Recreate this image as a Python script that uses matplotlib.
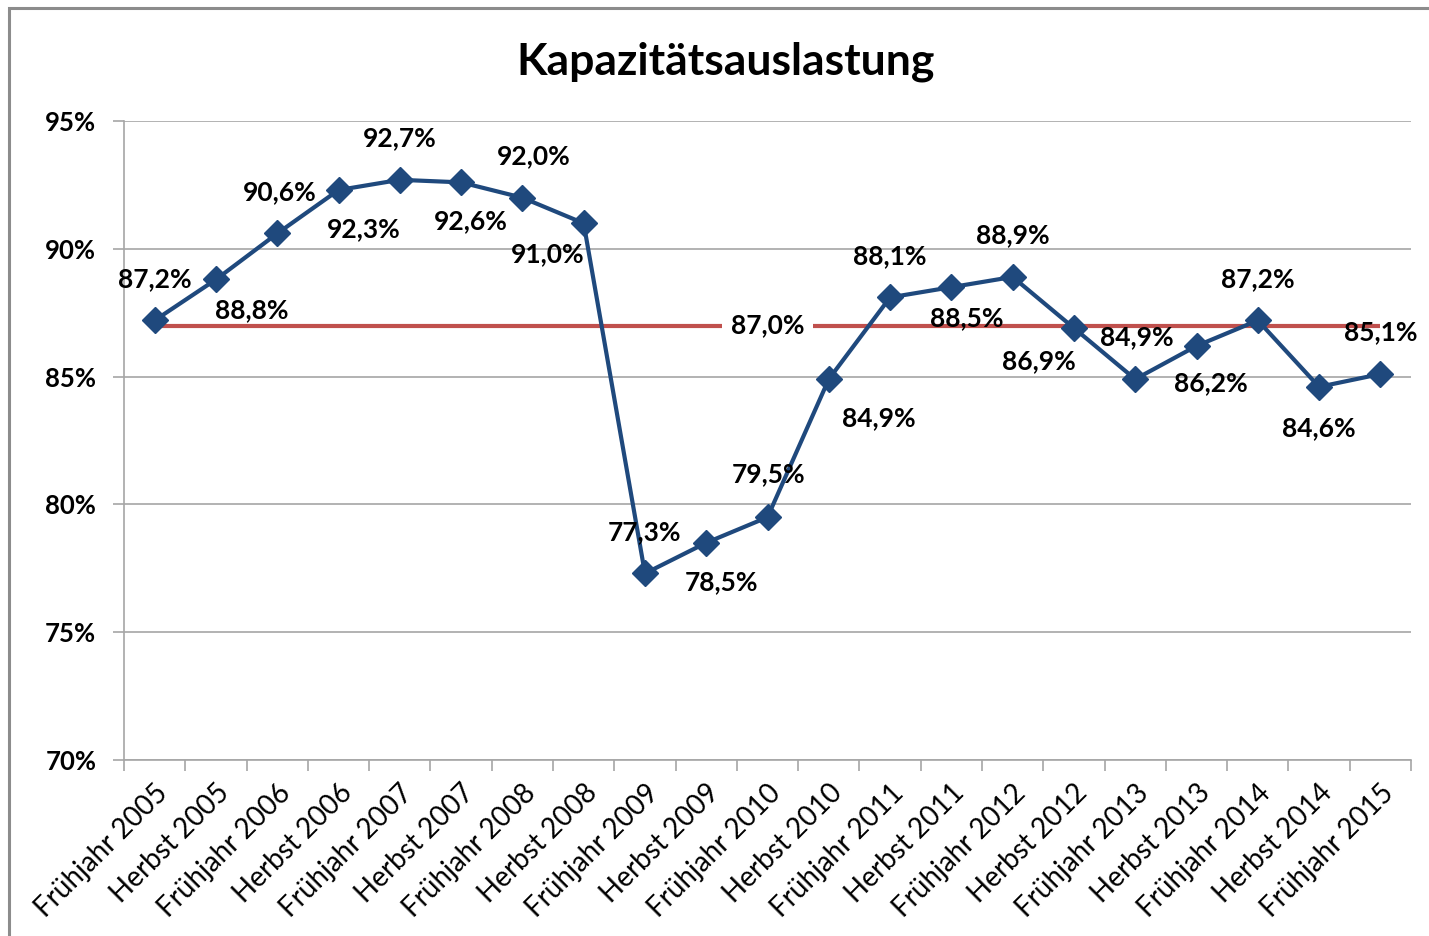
import matplotlib.pyplot as plt
from matplotlib.patches import Rectangle
from matplotlib.ticker import FixedLocator, PercentFormatter

plt.rcParams['font.family'] = ['Lato', 'DejaVu Sans']

# data
labels = ["Frühjahr 2005", "Herbst 2005", "Frühjahr 2006", "Herbst 2006",
          "Frühjahr 2007", "Herbst 2007", "Frühjahr 2008", "Herbst 2008",
          "Frühjahr 2009", "Herbst 2009", "Frühjahr 2010", "Herbst 2010",
          "Frühjahr 2011", "Herbst 2011", "Frühjahr 2012", "Herbst 2012",
          "Frühjahr 2013", "Herbst 2013", "Frühjahr 2014", "Herbst 2014",
          "Frühjahr 2015"]
auslastung = [87.2, 88.8, 90.6, 92.3, 92.7, 92.6, 92.0, 91.0, 77.3, 78.5,
              79.5, 84.9, 88.1, 88.5, 88.9, 86.9, 84.9, 86.2, 87.2, 84.6, 85.1]
mittelwert = 87.0

# label offsets (points) for each data label, roughly as placed in the original
offsets = [(0, 30), (26, -22), (2, 30), (18, -28), (0, 30), (7, -28),
           (8, 30), (-26, -22), (0, 30), (11, -28), (1, 31), (36, -28),
           (0, 30), (11, -22), (0, 30), (-25, -24), (1, 30), (10, -27),
           (0, 30), (0, -30), (0, 30)]

blue = '#1F497D'
red = '#C0504D'
grid = '#A6A6A6'

fig = plt.figure(figsize=(14.29, 9.36), dpi=100)
fig.patches.append(Rectangle((9 / 1429, -0.05), 1.1, 1 - 8 / 936 + 0.05,
                             transform=fig.transFigure, fill=False,
                             edgecolor='#8C8C8C', linewidth=2.2))
ax = fig.add_axes([0.0868, 0.188, 0.9006, 0.6827])

x = list(range(len(labels)))

# average line with a gap for its label
ax.plot([x[0], x[-1]], [mittelwert, mittelwert], color=red, linewidth=3,
        zorder=2, solid_capstyle='butt')
ax.text(10, mittelwert, f"{mittelwert:.1f}%".replace('.', ','), ha='center',
        va='center', fontsize=19, fontweight='bold', zorder=3,
        bbox=dict(facecolor='white', edgecolor='none', pad=6))

ax.plot(x, auslastung, color=blue, linewidth=3, marker='D', markersize=13,
        zorder=4)

for i, v in enumerate(auslastung):
    ax.annotate(f"{v:.1f}%".replace('.', ','), (i, v), xytext=offsets[i],
                textcoords='offset points', ha='center', va='center',
                fontsize=19, fontweight='bold', zorder=5)

ax.set_ylim(70, 95)
ax.set_xlim(-0.5, len(labels) - 0.5)
ax.set_yticks([70, 75, 80, 85, 90, 95])
ax.yaxis.set_major_formatter(PercentFormatter(decimals=0))
ax.grid(axis='y', color=grid, linewidth=1.2)
ax.set_axisbelow(True)

ax.xaxis.set_major_locator(FixedLocator([i - 0.5 for i in range(len(labels) + 1)]))
ax.set_xticklabels([])
ax.set_xticks(x, minor=True)
ax.set_xticklabels(labels, minor=True, rotation=45, ha='right',
                   rotation_mode='anchor', fontsize=20)
ax.tick_params(axis='x', which='minor', length=0, pad=14)
ax.tick_params(axis='x', which='major', length=8, color=grid, width=1.2)
ax.tick_params(axis='y', length=8, color=grid, width=1.2, labelsize=18.5, pad=12)
for lab in ax.get_yticklabels():
    lab.set_fontweight('bold')

for side in ['top', 'right']:
    ax.spines[side].set_visible(False)
for side in ['left', 'bottom']:
    ax.spines[side].set_color(grid)
    ax.spines[side].set_linewidth(1.2)

fig.text(0.5075, 0.934, "Kapazitätsauslastung", ha='center', va='center',
         fontsize=32, fontweight='bold')

fig.savefig('out.png', dpi=100)
